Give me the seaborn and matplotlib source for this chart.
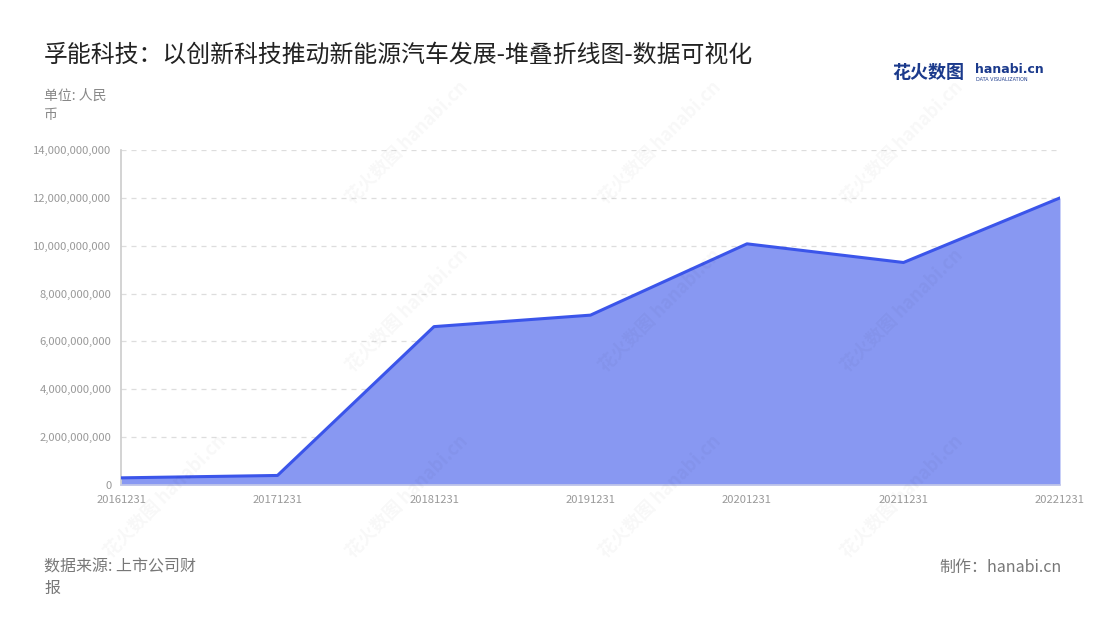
import matplotlib
matplotlib.use("Agg")
import matplotlib.pyplot as plt
import matplotlib.ticker as mticker
import seaborn as sns
import pandas as pd
import numpy as np

dates = ["20161231", "20171231", "20181231", "20191231", "20201231", "20211231", "20221231"]
revenue = [0.30e9, 0.40e9, 6.62e9, 7.10e9, 10.08e9, 9.30e9, 12.0e9]

sns.set_theme(style="white")
plt.rcParams['font.family'] = ['Noto Sans CJK SC', 'DejaVu Sans']

df = pd.DataFrame({"date": dates, "value": revenue, "pos": range(len(dates))})

fig = plt.figure(figsize=(11, 6.2), dpi=100)
ax = fig.add_axes([0.11, 0.2177, 0.8536, 0.5403])

line_c = "#3b55ea"
fill_c = "#8898f2"
ax.fill_between(df["pos"], df["value"], 0, color=fill_c, lw=0, zorder=2)
sns.lineplot(data=df, x="pos", y="value", ax=ax, color=line_c, lw=2.2, zorder=3)

ax.set_xlim(0, len(dates) - 1)
ax.set_ylim(0, 14e9)
ax.set_xticks(range(len(dates)))
ax.set_xticklabels(dates)
ax.set_yticks(np.arange(0, 14e9 + 1, 2e9))
ax.yaxis.set_major_formatter(mticker.FuncFormatter(lambda v, p: f"{int(round(v)):,}"))
ax.set_xlabel("")
ax.set_ylabel("")

ax.grid(axis="y", color="#dddddd", ls=(0, (4, 4)), lw=0.9, zorder=0)
for s in ["top", "right"]:
    ax.spines[s].set_visible(False)
ax.spines["left"].set_color("#cccccc")
ax.spines["left"].set_linewidth(1.2)
ax.spines["bottom"].set_color("#c4c9e8")
ax.spines["bottom"].set_linewidth(1.2)
ax.tick_params(axis="both", colors="#cccccc", labelcolor="#999999", labelsize=8.1,
               length=4, width=1, direction="out", pad=3)
ax.tick_params(axis="x", colors="#c4c9e8", labelcolor="#999999")

# watermarks
for wx, wy in [(0.37, 0.77), (0.6, 0.77), (0.82, 0.77), (0.37, 0.5), (0.6, 0.5), (0.82, 0.5),
               (0.37, 0.2), (0.6, 0.2), (0.82, 0.2), (0.15, 0.2)]:
    fig.text(wx, wy, "花火数图 hanabi.cn", rotation=45, fontsize=13, color="#000000",
             alpha=0.03, ha="center", va="center", fontweight="bold")

fig.text(0.04, 0.911, "孚能科技：以创新科技推动新能源汽车发展-堆叠折线图-数据可视化",
         fontsize=17.2, color="#222222", ha="left", va="center")
fig.text(0.04, 0.83, "单位: 人民\n币", fontsize=10, color="#888888", ha="left", va="center",
         linespacing=1.45)
fig.text(0.04, 0.068, "数据来源: 上市公司财\n报", fontsize=11.5, color="#777777", ha="left",
         va="center", linespacing=1.35)
fig.text(0.965, 0.085, "制作：hanabi.cn", fontsize=11.5, color="#777777", ha="right", va="center")

# logo
fig.text(0.811, 0.883, "花火数图", fontsize=13, color="#1b3a8c", ha="left", va="center",
         fontweight="bold")
fig.text(0.886, 0.888, "hanabi.cn", fontsize=9, color="#1b3a8c", ha="left", va="center",
         fontweight="bold", family=["DejaVu Sans"])
fig.text(0.887, 0.871, "DATA VISUALIZATION", fontsize=3.5, color="#1b3a8c", ha="left",
         va="center", family=["DejaVu Sans"])

fig.savefig("out.png", dpi=100, facecolor="white")
